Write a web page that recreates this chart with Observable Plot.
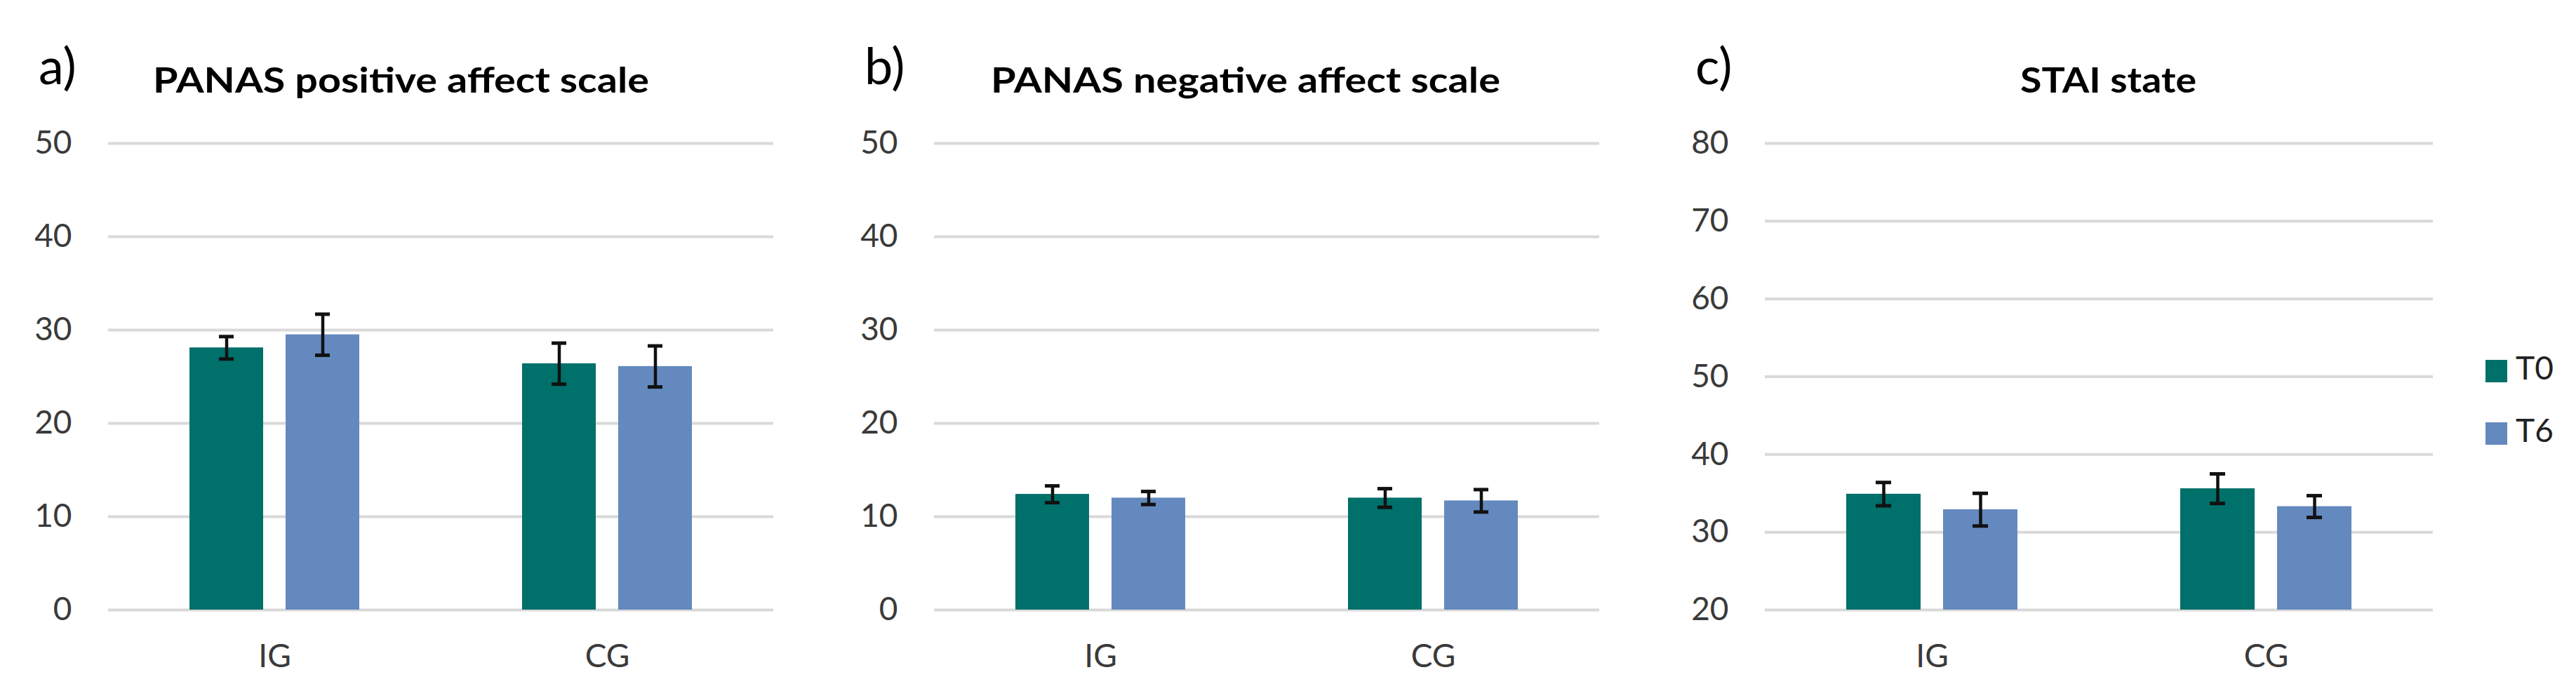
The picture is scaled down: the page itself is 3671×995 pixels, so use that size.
<!DOCTYPE html>
<html>
<head>
<meta charset="utf-8">
<script src="https://cdn.jsdelivr.net/npm/d3@7"></script>
<script src="https://cdn.jsdelivr.net/npm/@observablehq/plot@0.6"></script>
<style>
  html, body { margin: 0; padding: 0; background: #fff; }
  #wrap { position: relative; width: 3671px; height: 995px; overflow: hidden; background: #fff; }
  #wrap > svg, #wrap > div { position: absolute; top: 0; }
  .lbl { font-family: Lato, "Open Sans", sans-serif; }
</style>
</head>
<body>
<div id="wrap"></div>
<script>
// ---- data ----
const groups = ["IG", "CG"];
const times = ["T0", "T6"];
const colors = ["#00706A", "#6389BE"];

const panelLetters = ["a)", "b)", "c)"];
const panelTitles = ["PANAS positive affect scale", "PANAS negative affect scale", "STAI state"];

// order: IG-T0, IG-T6, CG-T0, CG-T6
const posMean = [28.1, 29.5, 26.4, 26.1];
const posErr  = [1.2, 2.2, 2.2, 2.2];
const negMean = [12.4, 12.0, 12.0, 11.7];
const negErr  = [0.9, 0.7, 1.0, 1.2];
const staiMean = [34.9, 32.9, 35.6, 33.3];
const staiErr  = [1.5, 2.1, 1.9, 1.4];

const panasTicks = [0, 10, 20, 30, 40, 50];
const staiTicks = [20, 30, 40, 50, 60, 70, 80];

function rowsOf(means, errs) {
  const out = [];
  let k = 0;
  for (const g of groups) for (const t of times) {
    out.push({group: g, time: t, mean: means[k], lo: means[k] - errs[k], hi: means[k] + errs[k]});
    k++;
  }
  return out;
}

const panels = [
  {left: 0, width: 1220, ml: 154, mr: 118, rows: rowsOf(posMean, posErr), ticks: panasTicks},
  {left: 1220, width: 1220, ml: 110, mr: 161, rows: rowsOf(negMean, negErr), ticks: panasTicks},
  {left: 2440, width: 1231, ml: 75, mr: 204, rows: rowsOf(staiMean, staiErr), ticks: staiTicks}
];

const wrap = document.getElementById("wrap");

panels.forEach((p) => {
  const base = p.ticks[0];
  const chart = Plot.plot({
    width: p.width,
    height: 995,
    marginLeft: p.ml,
    marginRight: p.mr,
    marginTop: 204,
    marginBottom: 126,
    style: {fontFamily: "Lato, 'Open Sans', sans-serif", fontSize: "46px", color: "#3a3a3a", background: "transparent", overflow: "visible"},
    fx: {domain: groups, padding: 0, label: null, axis: "bottom", tickSize: 0, tickPadding: 49},
    x: {domain: times, paddingInner: 0.232, paddingOuter: 0.834, axis: null},
    y: {domain: [p.ticks[0], p.ticks[p.ticks.length - 1]], ticks: p.ticks, tickSize: 0, tickPadding: 52, label: null, tickFormat: d => String(d)},
    color: {domain: times, range: colors},
    marks: [
      Plot.gridY(p.ticks, {stroke: "#d9d9d9", strokeOpacity: 1, strokeWidth: 4}),
      Plot.barY(p.rows, {fx: "group", x: "time", y1: base, y2: "mean", fill: "time"}),
      Plot.ruleX(p.rows, {fx: "group", x: "time", y1: "lo", y2: "hi", stroke: "#111", strokeWidth: 4.5}),
      Plot.tickY(p.rows, {fx: "group", x: "time", y: "hi", stroke: "#111", strokeWidth: 5, insetLeft: 42, insetRight: 42}),
      Plot.tickY(p.rows, {fx: "group", x: "time", y: "lo", stroke: "#111", strokeWidth: 5, insetLeft: 42, insetRight: 42})
    ]
  });
  chart.style.left = p.left + "px";
  chart.style.top = "0px";
  chart.style.position = "absolute";
  wrap.appendChild(chart);
});

// ---- overlay texts (titles, panel letters, legend) ----
const NS = "http://www.w3.org/2000/svg";
const ov = document.createElementNS(NS, "svg");
ov.setAttribute("width", 3671);
ov.setAttribute("height", 995);
ov.style.position = "absolute";
ov.style.left = "0px";
ov.style.top = "0px";
ov.style.pointerEvents = "none";
wrap.appendChild(ov);

function addText(str, x, y, opts) {
  const t = document.createElementNS(NS, "text");
  t.textContent = str;
  t.setAttribute("x", x);
  t.setAttribute("y", y);
  t.setAttribute("font-family", "Lato, 'Open Sans', sans-serif");
  t.setAttribute("font-size", opts.size);
  t.setAttribute("font-weight", opts.weight || "normal");
  t.setAttribute("fill", opts.fill || "#000");
  if (opts.len) {
    t.setAttribute("textLength", opts.len);
    t.setAttribute("lengthAdjust", "spacingAndGlyphs");
  }
  ov.appendChild(t);
  return t;
}

const letterX = [55, 1232, 2416];
const titleX = [218, 1412, 2879];
const titleLen = [707, 726, 251];
panelLetters.forEach((s, i) => addText(s, letterX[i], 120, {size: 72}));
panelTitles.forEach((s, i) => addText(s, titleX[i], 132, {size: 49, weight: "bold", len: titleLen[i]}));

// legend
const legY = [513, 602];
times.forEach((t, i) => {
  const r = document.createElementNS(NS, "rect");
  r.setAttribute("x", 3542);
  r.setAttribute("y", legY[i]);
  r.setAttribute("width", 31);
  r.setAttribute("height", 32);
  r.setAttribute("fill", colors[i]);
  ov.appendChild(r);
  addText(t, 3585, legY[i] + 28, {size: 46, fill: "#222"});
});
</script>
</body>
</html>
